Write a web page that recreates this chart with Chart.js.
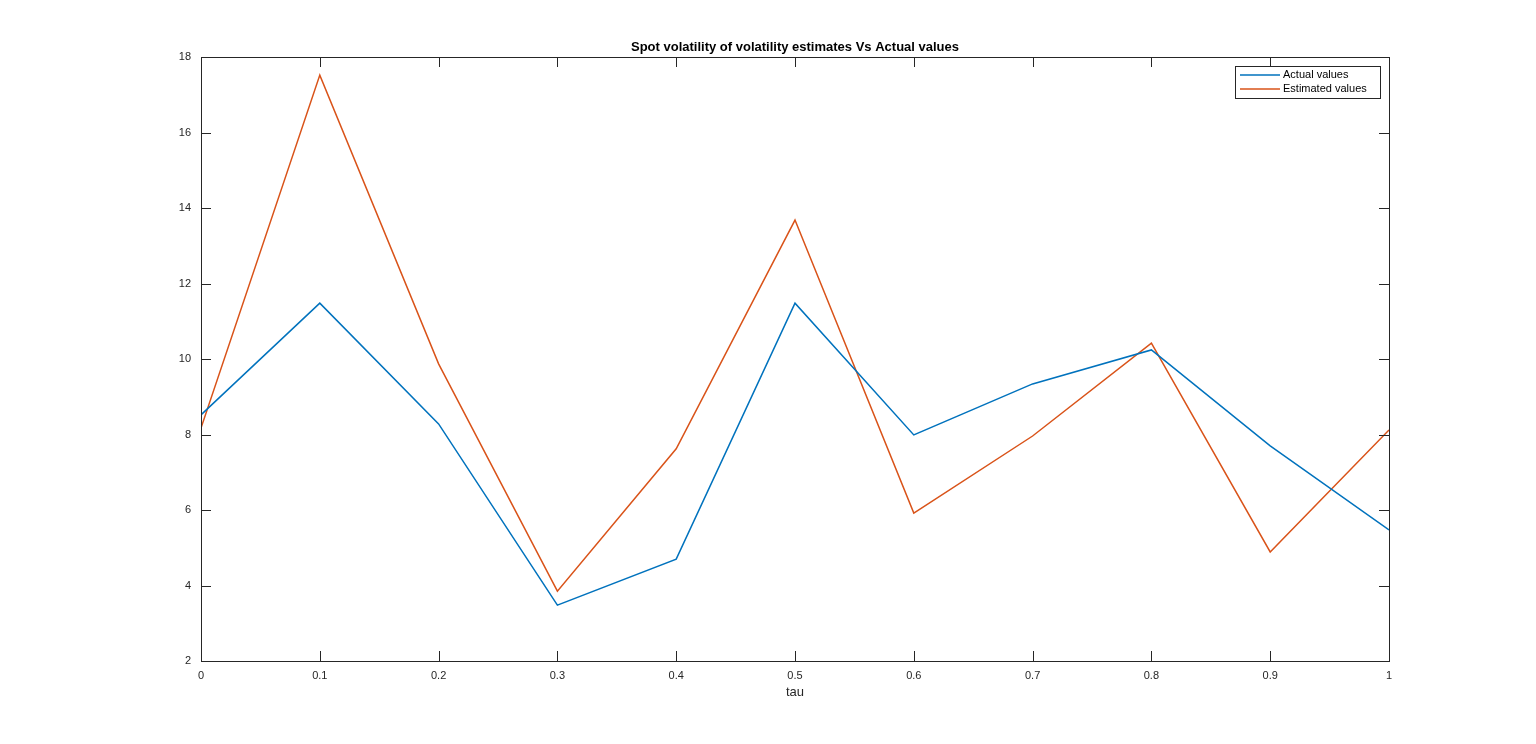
<!DOCTYPE html>
<html><head><meta charset="utf-8">
<script src="https://cdn.jsdelivr.net/npm/chart.js@4"></script>
<style>html,body{margin:0;padding:0;background:#fff}canvas{display:block}</style>
</head><body>
<canvas id="c" width="1536" height="744"></canvas>
<script>
const tau = [0,0.1,0.2,0.3,0.4,0.5,0.6,0.7,0.8,0.9,1];
const actualValues = [8.52,11.48,8.28,3.48,4.70,11.48,7.99,9.34,10.24,7.70,5.47];
const estimatedValues = [8.17,17.52,9.87,3.85,7.62,13.68,5.92,7.96,10.42,4.89,8.12];
const seriesNames = ['Actual values','Estimated values'];
const titleText = 'Spot volatility of volatility estimates Vs Actual values';
const xLabel = 'tau';
const colors = ['#0072BD','#D95319'];
const font = 'Liberation Sans, Arial, sans-serif';

const boxPlugin = {
  id:'box',
  afterDraw(chart){
    const {ctx, chartArea:a, scales:{x,y}} = chart;
    ctx.save();
    ctx.strokeStyle='#262626'; ctx.lineWidth=1;
    ctx.strokeRect(a.left+0.5,a.top+0.5,a.right-a.left,a.bottom-a.top);
    ctx.beginPath();
    x.ticks.forEach(t=>{const px=Math.round(x.getPixelForValue(t.value))+0.5;
      ctx.moveTo(px,a.bottom);ctx.lineTo(px,a.bottom-10);ctx.moveTo(px,a.top);ctx.lineTo(px,a.top+10);});
    y.ticks.forEach(t=>{const py=Math.round(y.getPixelForValue(t.value))+0.5;
      ctx.moveTo(a.left,py);ctx.lineTo(a.left+10,py);ctx.moveTo(a.right,py);ctx.lineTo(a.right-10,py);});
    ctx.stroke();
    ctx.fillStyle='#000'; ctx.font='bold 13px '+font; ctx.textAlign='center'; ctx.textBaseline='bottom';
    ctx.fillText(titleText,(a.left+a.right)/2,a.top-3);
    ctx.font='13px '+font; ctx.textBaseline='top'; ctx.fillStyle='#262626';
    ctx.fillText(xLabel,(a.left+a.right)/2,a.bottom+25);
    const lx=1235, ly=66, lw=145, lh=32;
    ctx.fillStyle='#fff'; ctx.fillRect(lx,ly,lw,lh);
    ctx.strokeStyle='#262626'; ctx.strokeRect(lx+0.5,ly+0.5,lw,lh);
    ctx.font='11px '+font; ctx.textAlign='left'; ctx.textBaseline='middle';
    seriesNames.forEach((n,i)=>{const yy=ly+9+i*14;
      ctx.strokeStyle=colors[i]; ctx.lineWidth=1.5; ctx.beginPath(); ctx.moveTo(lx+5,yy); ctx.lineTo(lx+45,yy); ctx.stroke();
      ctx.fillStyle='#000'; ctx.fillText(n,lx+48,yy);});
    ctx.restore();
  }
};

new Chart(document.getElementById('c'),{
  type:'line',
  data:{datasets:[
    {label:seriesNames[0],data:tau.map((t,i)=>({x:t,y:actualValues[i]})),borderColor:colors[0],borderWidth:1.5,pointRadius:0,tension:0},
    {label:seriesNames[1],data:tau.map((t,i)=>({x:t,y:estimatedValues[i]})),borderColor:colors[1],borderWidth:1.5,pointRadius:0,tension:0}
  ]},
  options:{
    responsive:false,animation:false,
    layout:{padding:{top:57,right:147,left:0,bottom:0}},
    plugins:{legend:{display:false},title:{display:false},tooltip:{enabled:false}},
    scales:{
      x:{type:'linear',min:0,max:1,grid:{display:false},border:{display:false},
        afterFit(s){s.height=83;},
        ticks:{stepSize:0.1,color:'#262626',font:{family:font,size:11},padding:0,maxRotation:0,
          callback:v=>String(Math.round(v*10)/10)}},
      y:{min:2,max:18,grid:{display:false},border:{display:false},
        afterFit(s){s.width=201;},
        ticks:{stepSize:2,color:'#262626',font:{family:font,size:11},padding:2}}
    }
  },
  plugins:[boxPlugin]
});
</script>
</body></html>
